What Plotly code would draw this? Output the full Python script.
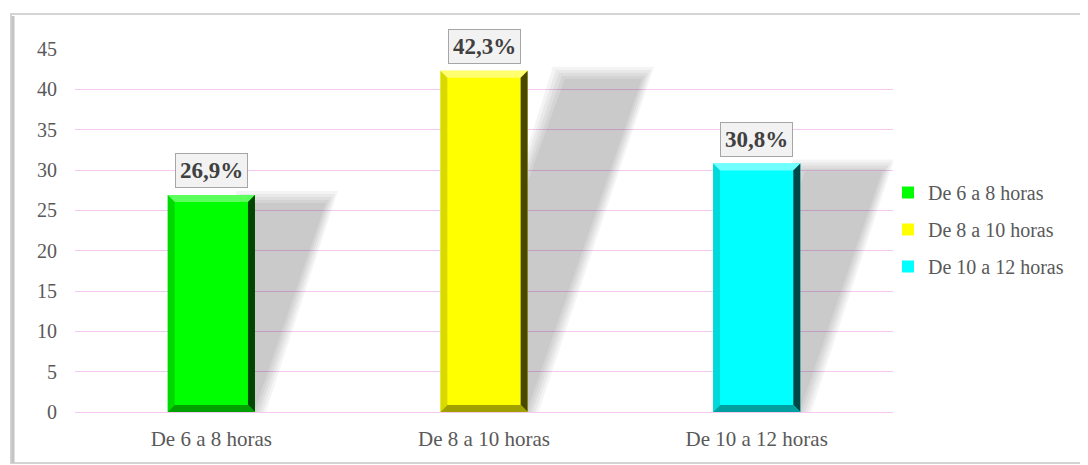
import plotly.graph_objects as go

categories = ["De 6 a 8 horas", "De 8 a 10 horas", "De 10 a 12 horas"]
values = [26.9, 42.3, 30.8]
labels = ["26,9%", "42,3%", "30,8%"]
colors = ["#00ff00", "#ffff00", "#00ffff"]
dark_colors = ["#004800", "#484800", "#004848"]
mid_colors = ["#00a000", "#a0a000", "#00a0a0"]
light_colors = ["#5cff5c", "#ffff70", "#70ffff"]
y_ticks = [0, 5, 10, 15, 20, 25, 30, 35, 40, 45]

FONT = "Liberation Serif, Times New Roman, serif"
OFF = 8  # page body margin
W, H = 1088 - OFF, 465 - OFF
# target plot area in page pixels: x 75..893, y 49..412
ML, MT = 75 - OFF, 49 - OFF
MR = (OFF + W) - 893
MB = (OFF + H) - 412
plot_w = 893 - 75
plot_h = 412 - 49
ymax = 45
bar_w = 0.32
xu = 3.0 / plot_w          # x data units per pixel
yu = ymax / plot_h         # y data units per pixel
shear = 0.35 * (plot_h / ymax) * xu   # x offset per y unit

fig = go.Figure()
xs = list(range(len(categories)))
for i, (c, v, col) in enumerate(zip(categories, values, colors)):
    fig.add_trace(go.Bar(
        x=[xs[i]], y=[v], name=c, marker=dict(color=col, line=dict(width=0)),
        width=bar_w, legendgroup=c, showlegend=True, hoverinfo="skip"))

shapes = []
# blurred shadows (sheared parallelograms), from data values
for i, v in enumerate(values):
    xl = xs[i] - bar_w / 2
    xr = xs[i] + bar_w / 2
    off = shear * v
    for e in [7, 4, 1, -2, -5]:
        ex = e * xu
        ey = e * yu
        top = v + ey - 3 * yu
        path = (f"M {xl + 4*xu},0 L {xr + 4*xu + ex},0 "
                f"L {xr + off + ex},{top} L {xl + off - ex},{top} Z")
        shapes.append(dict(type="path", path=path, xref="x", yref="y",
                           fillcolor="black", opacity=0.045, line=dict(width=0),
                           layer="between"))
# bevel edges on bars
bx = 7 * xu
by = 7 * yu
for i, v in enumerate(values):
    xl = xs[i] - bar_w / 2
    xr = xs[i] + bar_w / 2
    shapes.append(dict(type="path", xref="x", yref="y", layer="above",
                       path=f"M {xl},{v} L {xr},{v} L {xr-bx},{v-by} L {xl+bx},{v-by} Z",
                       fillcolor=light_colors[i], line=dict(width=0)))
    shapes.append(dict(type="path", xref="x", yref="y", layer="above",
                       path=f"M {xr},{v} L {xr},0 L {xr-bx},{by} L {xr-bx},{v-by} Z",
                       fillcolor=dark_colors[i], line=dict(width=0)))
    shapes.append(dict(type="path", xref="x", yref="y", layer="above",
                       path=f"M {xl},0 L {xr},0 L {xr-bx},{by} L {xl+bx},{by} Z",
                       fillcolor=mid_colors[i], line=dict(width=0)))
    shapes.append(dict(type="path", xref="x", yref="y", layer="above",
                       path=f"M {xl},0 L {xl},{v} L {xl+bx},{v-by} L {xl+bx},{by} Z",
                       fillcolor=mid_colors[i], opacity=0.4, line=dict(width=0)))

# outer chart frame (page pixel -> paper)
px = lambda p: (p - 75) / plot_w
py = lambda p: (412 - p) / plot_h
shapes.append(dict(type="rect", xref="paper", yref="paper",
                   x0=px(11), x1=px(1087), y0=py(463), y1=py(14),
                   line=dict(color="#d4d4d4", width=2), layer="below"))
shapes.append(dict(type="line", xref="paper", yref="paper",
                   x0=px(13), x1=px(13), y0=py(463), y1=py(16),
                   line=dict(color="#c4c4c4", width=3), layer="below"))

annotations = []
for i, (v, lab) in enumerate(zip(values, labels)):
    annotations.append(dict(
        x=xs[i], y=v, xref="x", yref="y", text=f"<b>{lab}</b>",
        showarrow=False, yanchor="bottom", yshift=7,
        font=dict(family=FONT, size=23, color="#404040"),
        bgcolor="#f2f2f2", bordercolor="#a6a6a6", borderwidth=1, borderpad=4))

fig.update_layout(
    width=W, height=H,
    margin=dict(l=ML, r=MR, t=MT, b=MB),
    paper_bgcolor="white", plot_bgcolor="white",
    font=dict(family=FONT, color="#595959"),
    bargap=0.68,
    shapes=shapes, annotations=annotations,
    xaxis=dict(range=[-0.5, 2.5], tickvals=xs, ticktext=categories,
               showgrid=False, zeroline=False, showline=False,
               tickfont=dict(family=FONT, size=21, color="#595959"),
               ticks="", ticklabelstandoff=12, fixedrange=True),
    yaxis=dict(range=[0, ymax], tickvals=y_ticks, showgrid=True,
               gridcolor="#f4c8f0", gridwidth=1, zeroline=True,
               zerolinecolor="#f4c8f0", zerolinewidth=1, showline=False,
               tickfont=dict(family=FONT, size=20, color="#595959"),
               ticks="", ticklabelstandoff=17, fixedrange=True),
    legend=dict(x=px(888), y=py(173), xanchor="left", yanchor="top",
                font=dict(family=FONT, size=20, color="#595959"),
                tracegroupgap=8, itemwidth=30, bgcolor="rgba(0,0,0,0)"),
    showlegend=True,
)

fig.write_html("out.html")
